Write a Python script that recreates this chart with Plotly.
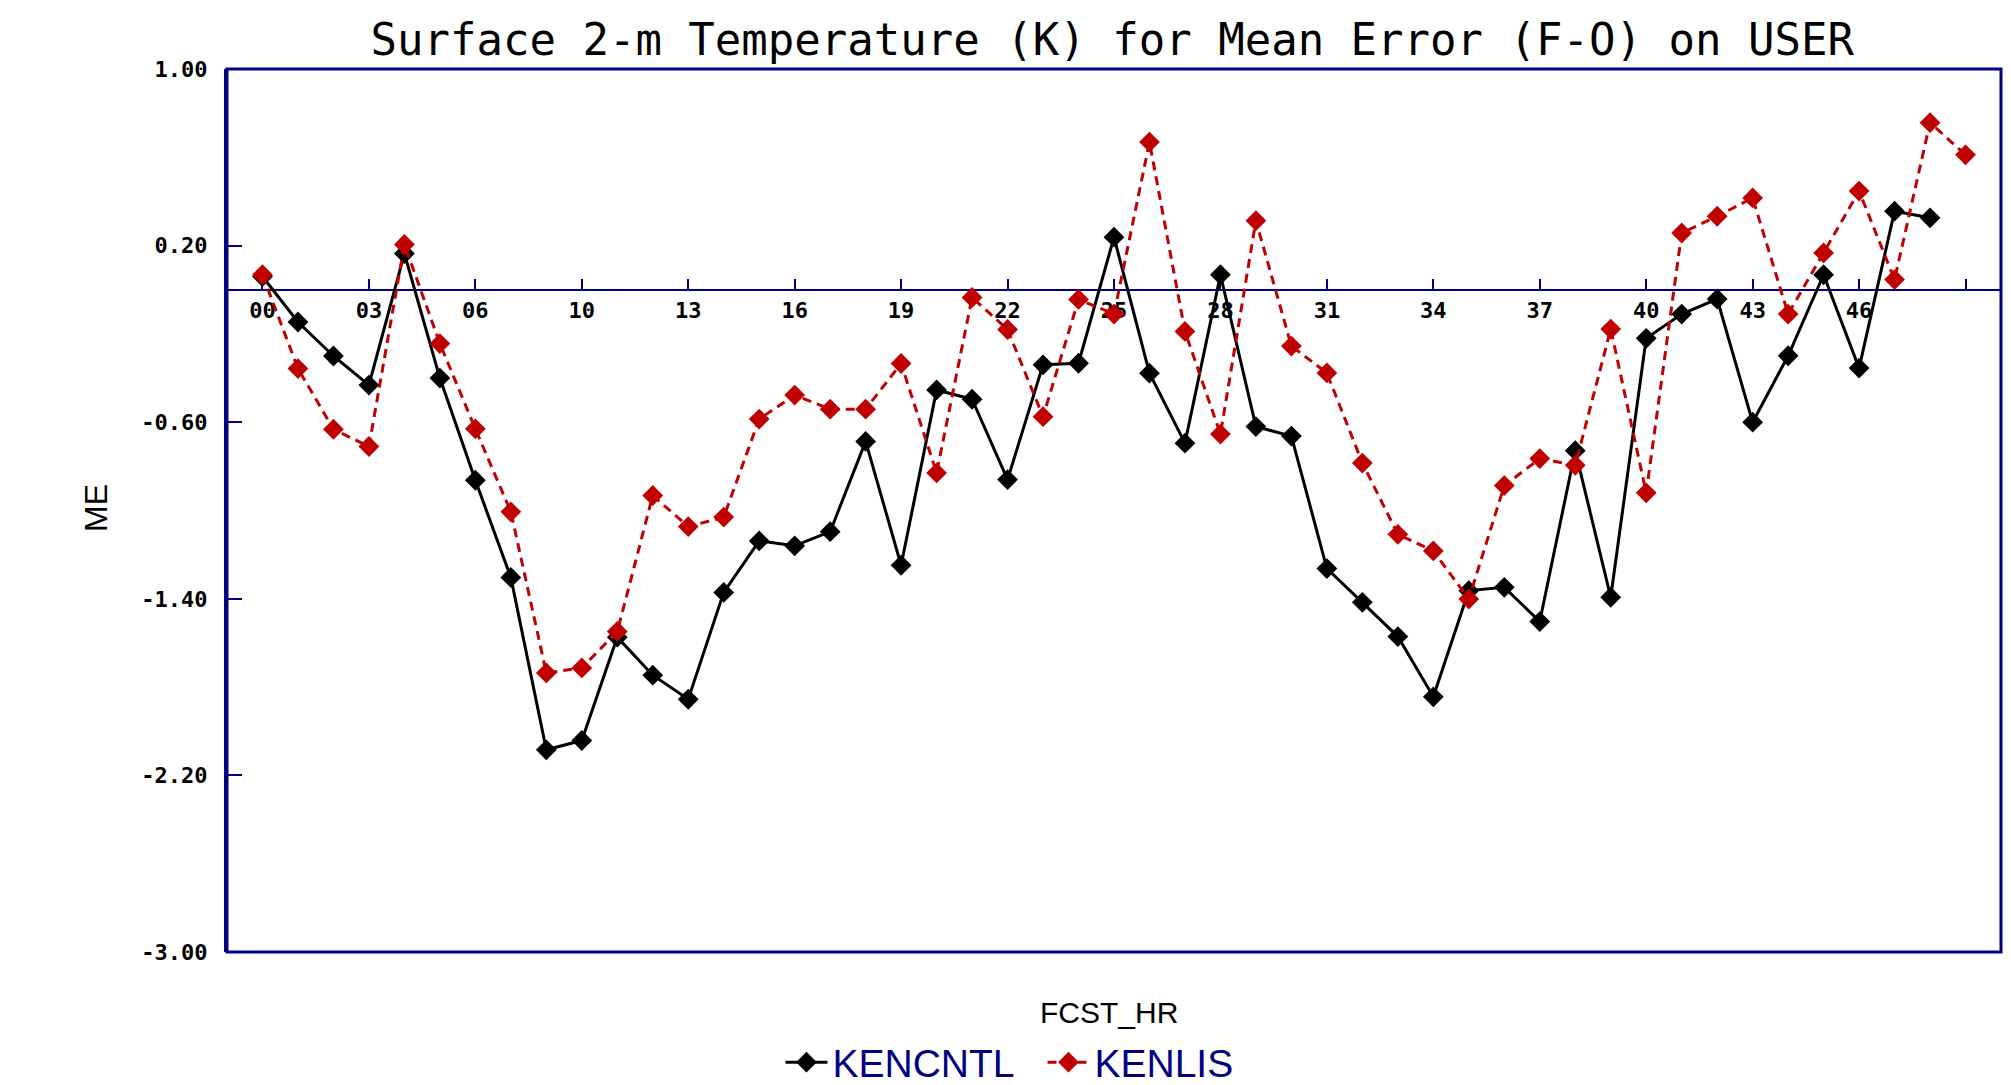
import plotly.graph_objects as go

# ---- data ----
kencntl = [0.06, -0.146, -0.30, -0.432, 0.164, -0.40, -0.863, -1.303, -2.084, -2.042,
           -1.574, -1.746, -1.855, -1.371, -1.138, -1.160, -1.096, -0.687, -1.248, -0.454,
           -0.496, -0.86, -0.34, -0.333, 0.238, -0.378, -0.695, 0.068, -0.62, -0.663,
           -1.263, -1.416, -1.571, -1.844, -1.363, -1.348, -1.503, -0.729, -1.393, -0.22,
           -0.11, -0.042, -0.60, -0.299, 0.068, -0.355, 0.356, 0.326]
kenlis = [0.068, -0.357, -0.632, -0.71, 0.205, -0.244, -0.63, -1.006, -1.736, -1.713,
          -1.548, -0.932, -1.073, -1.030, -0.586, -0.477, -0.541, -0.541, -0.334, -0.83,
          -0.035, -0.18, -0.575, -0.044, -0.11, 0.669, -0.189, -0.654, 0.313, -0.255,
          -0.377, -0.785, -1.108, -1.183, -1.401, -0.887, -0.765, -0.795, -0.178, -0.92,
          0.257, 0.333, 0.416, -0.11, 0.167, 0.447, 0.046, 0.757, 0.611]
x_index = list(range(49))
x_tick_pos = [0, 3, 6, 9, 12, 15, 18, 21, 24, 27, 30, 33, 36, 39, 42, 45, 48]
x_tick_labels = ["00", "03", "06", "10", "13", "16", "19", "22", "25", "28",
                 "31", "34", "37", "40", "43", "46", ""]
y_tick_vals = [1.0, 0.2, -0.6, -1.4, -2.2, -3.0]
y_tick_labels = ["1.00", "0.20", "-0.60", "-1.40", "-2.20", "-3.00"]

NAVY = "#000080"
RED = "#C00000"

fig = go.Figure()
fig.add_trace(go.Scatter(
    x=x_index[:len(kencntl)], y=kencntl, name="KENCNTL", mode="lines+markers",
    line=dict(color="black", width=3),
    marker=dict(symbol="diamond", size=16, color="black")))
fig.add_trace(go.Scatter(
    x=x_index[:len(kenlis)], y=kenlis, name="KENLIS", mode="lines+markers",
    line=dict(color=RED, width=3, dash="9px,6px"),
    marker=dict(symbol="diamond", size=16, color=RED)))

tickfont = dict(family="DejaVu Sans Mono", size=22, color="black", weight="bold")

fig.update_layout(
    width=2011, height=1085,
    margin=dict(l=227, r=10, t=69, b=133, autoexpand=False),
    paper_bgcolor="white", plot_bgcolor="white",
    title=dict(text="Surface 2-m Temperature (K) for Mean Error (F-O) on USER",
               x=0.499, xref="paper", y=1 - 40 / 1085, yref="container",
               xanchor="center", yanchor="middle",
               font=dict(family="DejaVu Sans Mono", size=44, color="black")),
    showlegend=True,
    legend=dict(orientation="h", x=0.312, xanchor="left", y=-0.125, yanchor="middle",
                font=dict(family="Liberation Sans", size=39, color=NAVY),
                bgcolor="rgba(0,0,0,0)", itemwidth=42, tracegroupgap=0,
                entrywidth=205, entrywidthmode="pixels"),
    xaxis=dict(range=[-1, 49], anchor="free", position=0.75,
               showline=True, linecolor=NAVY, linewidth=2,
               ticks="inside", ticklen=10, tickwidth=2, tickcolor=NAVY,
               tickmode="array", tickvals=x_tick_pos, ticktext=x_tick_labels,
               tickfont=tickfont, ticklabelstandoff=1,
               showgrid=False, zeroline=False, layer="below traces"),
    yaxis=dict(range=[-3, 1], showline=True, linecolor=NAVY, linewidth=3,
               ticks="inside", ticklen=15, tickwidth=2, tickcolor=NAVY,
               tickmode="array", tickvals=y_tick_vals, ticktext=y_tick_labels,
               tickfont=tickfont, ticklabelstandoff=12,
               showgrid=False, zeroline=False),
    shapes=[dict(type="rect", xref="paper", yref="paper", x0=0, x1=1, y0=0, y1=1,
                 line=dict(color=NAVY, width=3), layer="above")],
    annotations=[
        dict(text="FCST_HR", xref="paper", yref="paper", x=0.497, y=-0.068,
             xanchor="center", yanchor="middle", showarrow=False,
             font=dict(family="Liberation Sans", size=30, color="black")),
        dict(text="ME", xref="paper", yref="paper", x=-0.0738, y=0.503,
             xanchor="center", yanchor="middle", showarrow=False, textangle=-90,
             font=dict(family="Liberation Sans", size=32, color="black")),
    ],
)

fig.write_html("out.html")
